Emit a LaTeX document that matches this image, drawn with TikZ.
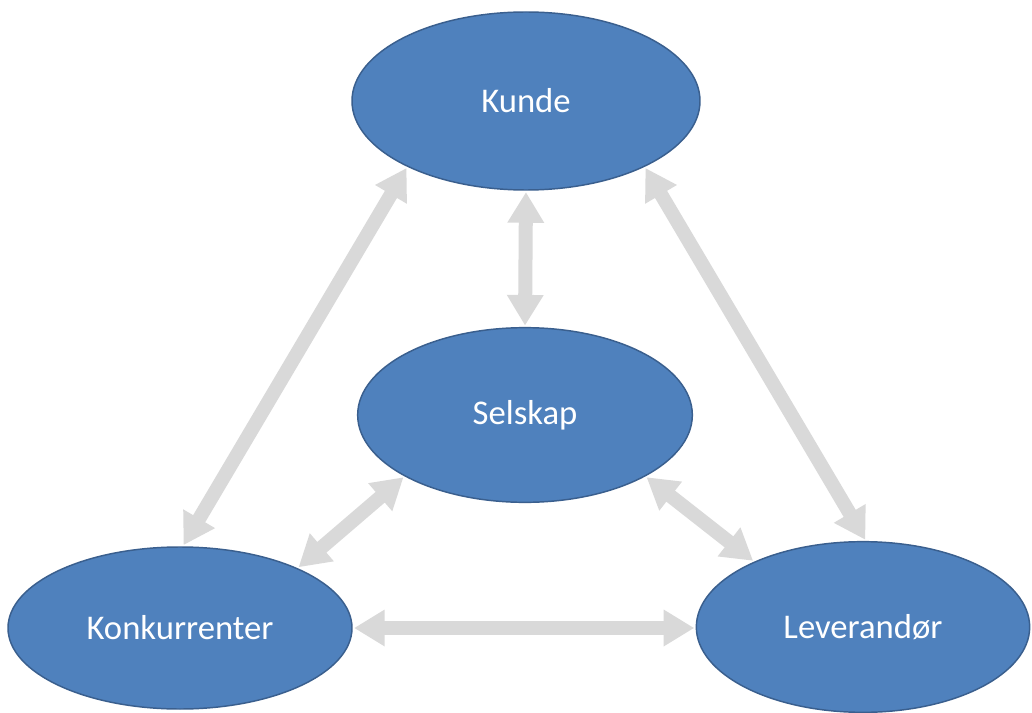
\documentclass[tikz,border=0pt]{standalone}
\usepackage{fontspec}
\setmainfont{Carlito}
\usetikzlibrary{shapes.geometric,arrows.meta}
\definecolor{nodefill}{HTML}{4F81BD}
\definecolor{nodeedge}{HTML}{3A5F8E}
\definecolor{linkgray}{HTML}{D9D9D9}
\begin{document}
\begin{tikzpicture}[x=0.75pt,y=-0.75pt,
  actor/.style={ellipse,draw=nodeedge,line width=1.1pt,fill=nodefill,
    inner sep=0pt,text=white,font=\fontsize{26}{31}\selectfont},
  link/.style={draw=linkgray,line width=10.5pt,
    {Triangle[width=26pt,length=23pt]}-{Triangle[width=26pt,length=23pt]},
    shorten <=1pt,shorten >=1pt}]
\useasboundingbox (0,0) rectangle (1032,713);
\fill[white] (0,0) rectangle (1032,713);
% the four parties
\node[actor,minimum width=261pt,minimum height=133.5pt] (kunde) at (526,101) {Kunde};
\node[actor,minimum width=251pt,minimum height=131pt] (selskap) at (525,415) {Selskap};
\node[actor,minimum width=258pt,minimum height=121.5pt] (konk) at (180,628) {Konkurrenter};
\node[actor,minimum width=250pt,minimum height=128pt] (lev) at (863,627) {Leverandør};
% two-way relations
\draw[link] (kunde.south) -- (selskap.north);
\draw[link] (kunde.209) -- (konk.88);
\draw[link] (kunde.331) -- (lev.88);
\draw[link] (selskap.207) -- (konk.27);
\draw[link] (selskap.333) -- (lev.149);
\draw[link] (konk.east) -- (konk.east -| lev.west);
\end{tikzpicture}
\end{document}
